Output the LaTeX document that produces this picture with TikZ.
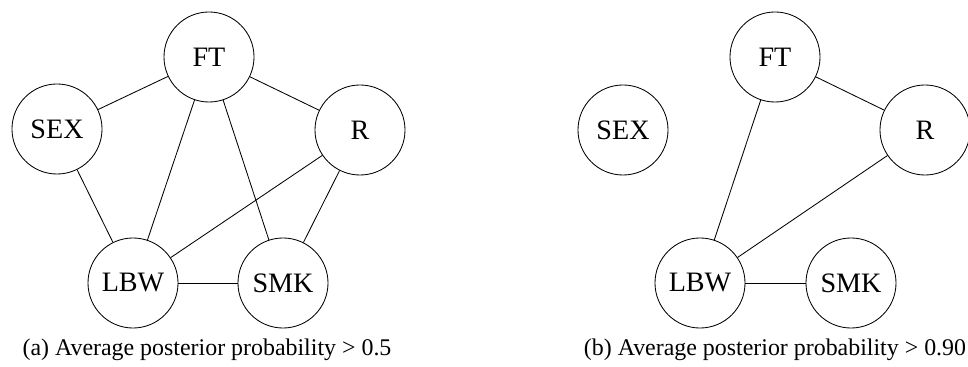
\documentclass[tikz,border=0pt]{standalone}
\usepackage{fontspec}
\setmainfont{Liberation Serif}
\usetikzlibrary{positioning}

\begin{document}
\begin{tikzpicture}[
    x=0.025cm, y=-0.025cm,
    var/.style={draw, circle, line width=0.6pt, minimum size=2.25cm, inner sep=0pt,
                font=\fontsize{20}{24}\selectfont},
    subcap/.style={font=\fontsize{17}{20}\selectfont},
    edge/.style={line width=0.6pt}
  ]
    \useasboundingbox (0,0) rectangle (968,367);

    % (a) posterior > 0.5
    \node[var] (ftA)  at (209, 57)  {FT};
    \node[var] (sexA) at (57, 129)  {SEX};
    \node[var] (rA)   at (360, 130) {R};
    \node[var] (lbwA) at (133, 283) {LBW};
    \node[var] (smkA) at (283, 283) {SMK};
    \node[subcap] (capA) at (207, 350) {(a) Average posterior probability > 0.5};

    \draw[edge] (sexA) -- (ftA);
    \draw[edge] (ftA)  -- (rA);
    \draw[edge] (sexA) -- (lbwA);
    \draw[edge] (ftA)  -- (lbwA);
    \draw[edge] (ftA)  -- (smkA);
    \draw[edge] (rA)   -- (lbwA);
    \draw[edge] (rA)   -- (smkA);
    \draw[edge] (lbwA) -- (smkA);

    % (b) posterior > 0.90
    \node[var] (ftB)  at (775, 57)  {FT};
    \node[var] (sexB) at (623, 130) {SEX};
    \node[var] (rB)   at (925, 130) {R};
    \node[var] (lbwB) at (700, 283) {LBW};
    \node[var] (smkB) at (851, 283) {SMK};
    \node[subcap] (capB) at (775, 350) {(b) Average posterior probability > 0.90};

    \draw[edge] (ftB)  -- (rB);
    \draw[edge] (ftB)  -- (lbwB);
    \draw[edge] (rB)   -- (lbwB);
    \draw[edge] (lbwB) -- (smkB);
\end{tikzpicture}
\end{document}
